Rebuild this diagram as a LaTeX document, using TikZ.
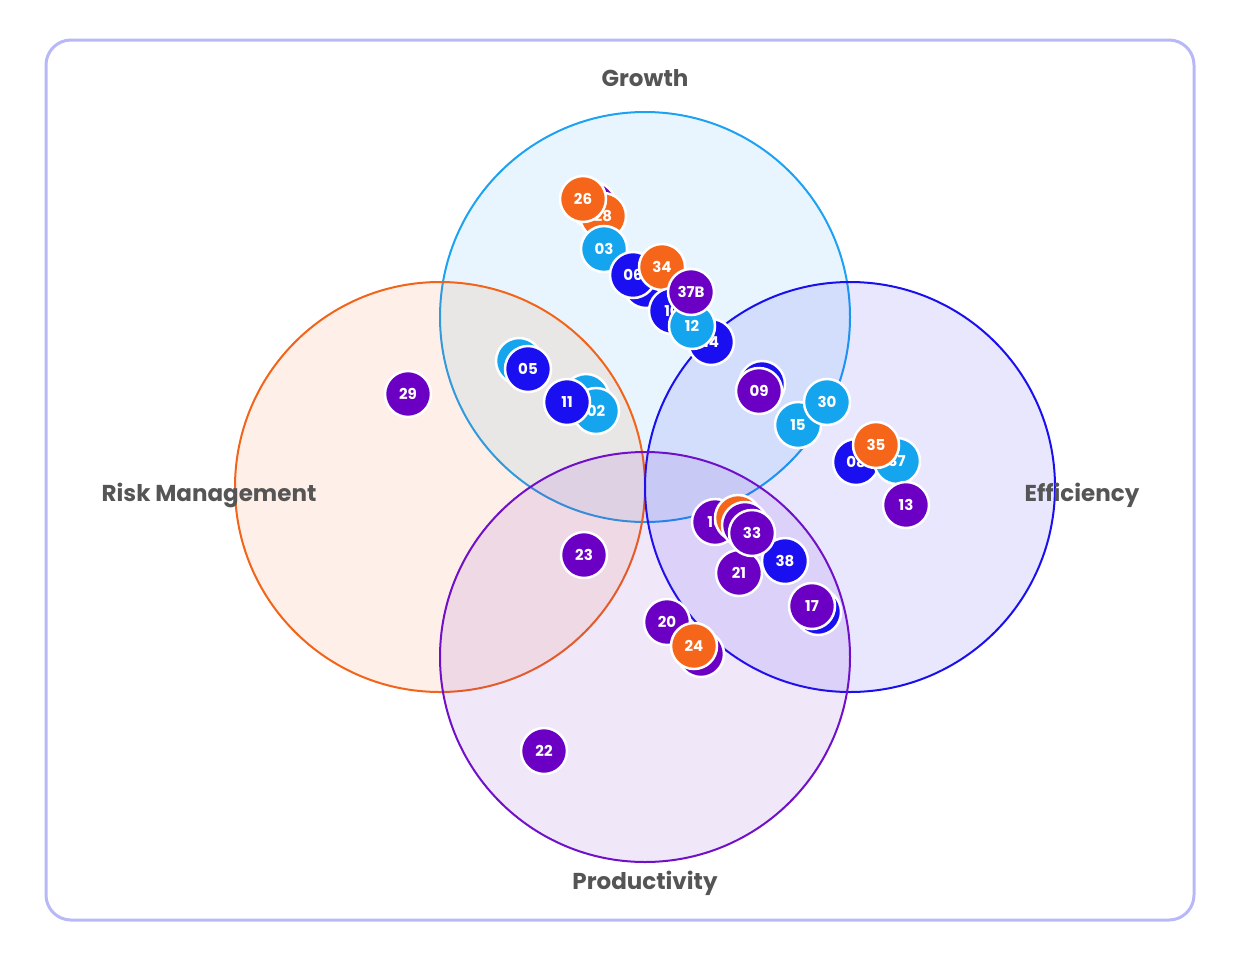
\documentclass[tikz,border=0pt]{standalone}
\usepackage{fontspec}
\setmainfont{Poppins}
\definecolor{cOrange}{HTML}{F5651A}
\definecolor{cSky}{HTML}{14A5EE}
\definecolor{cBlue}{HTML}{1A0FF0}
\definecolor{cPurple}{HTML}{6B00C4}
\definecolor{sGrowth}{HTML}{1DA1F2}
\definecolor{sRisk}{HTML}{F26419}
\definecolor{sEff}{HTML}{1A10EE}
\definecolor{sProd}{HTML}{7010C8}
\definecolor{frameC}{HTML}{B8B8F8}
\definecolor{labelC}{HTML}{555555}
\tikzset{
  bub/.style={circle, minimum size=46pt, inner sep=0pt, draw=white, line width=2.5pt,
    text=white, font=\fontsize{15}{15}\selectfont\bfseries},
  bo/.style={bub, fill=cOrange},
  bs/.style={bub, fill=cSky},
  bb/.style={bub, fill=cBlue},
  bp/.style={bub, fill=cPurple},
  setc/.style={circle, minimum size=410pt, inner sep=0pt, line width=2pt, fill opacity=0.1},
  setlabel/.style={text=labelC, font=\fontsize{23}{23}\selectfont\bfseries},
}
\begin{document}
\begin{tikzpicture}[x=1pt,y=-1pt]
\useasboundingbox (0,0) rectangle (1234,964);
\draw[frameC, line width=3pt, rounded corners=25pt] (46,40) rectangle (1194,920);
% sets
\node[setc, draw=sGrowth, fill=sGrowth] (growth) at (645,317) {};
\node[setc, draw=sRisk, fill=sRisk] (risk) at (440,487) {};
\node[setc, draw=sEff, fill=sEff] (eff) at (850,487) {};
\node[setc, draw=sProd, fill=sProd] (prod) at (645,657) {};
% labels
\node[setlabel] (lgrowth) at (645,78) {Growth};
\node[setlabel] (lrisk) at (209,495) {Risk Management};
\node[setlabel] (leff) at (1082,495) {Efficiency};
\node[setlabel] (lprod) at (645,883) {Productivity};
% growth cluster
\node[bp] (h1) at (593,205) {};
\node[bo] (b28) at (603,216) {28};
\node[bo] (b26) at (583,199) {26};
\node[bs] (b03) at (604,249) {03};
\node[bb] (h2) at (646,285) {};
\node[bb] (b06) at (633,275) {06};
\node[bo] (b34) at (662,267) {34};
\node[bb] (b10) at (672,311) {10};
\node[bb] (b14) at (711,342) {14};
\node[bs] (b12) at (692,326) {12};
\node[bp] (b37B) at (691,292) {37B};
% risk/growth overlap
\node[bs] (h3) at (519,361) {};
\node[bb] (b05) at (528,369) {05};
\node[bs] (h4) at (586,397) {};
\node[bs] (b02) at (596,411) {02};
\node[bb] (b11) at (567,402) {11};
% efficiency area
\node[bb] (h5) at (762,384) {};
\node[bp] (b09) at (759,391) {09};
\node[bs] (b15) at (798,425) {15};
\node[bs] (b30) at (827,402) {30};
\node[bb] (b08) at (856,462) {08};
\node[bs] (b37) at (897,461) {37};
\node[bo] (b35) at (876,445) {35};
\node[bp] (b13) at (906,505) {13};
% productivity/efficiency
\node[bp] (b16) at (715,522) {16};
\node[bo] (h6) at (738,518) {};
\node[bp] (h7) at (745,525) {};
\node[bb] (b38) at (785,561) {38};
\node[bp] (b21) at (739,573) {21};
\node[bp] (b33) at (752,533) {33};
\node[bb] (h8) at (818,612) {};
\node[bp] (b17) at (812,606) {17};
\node[bp] (b20) at (667,622) {20};
\node[bp] (h9) at (701,654) {};
\node[bo] (b24) at (694,646) {24};
% singles
\node[bp] (b29) at (408,394) {29};
\node[bp] (b23) at (584,555) {23};
\node[bp] (b22) at (544,751) {22};
\end{tikzpicture}
\end{document}
